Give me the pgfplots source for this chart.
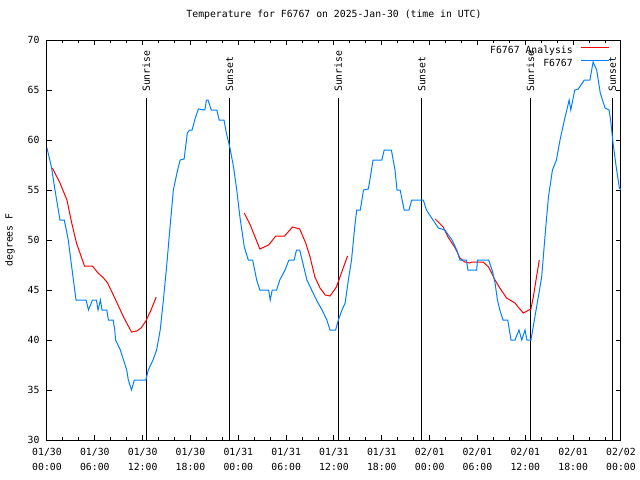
\documentclass[border=0pt]{standalone}
\usepackage{fontspec}
\setmainfont{DejaVu Sans Mono}
\usepackage{pgfplots}
\pgfplotsset{compat=1.18}
\definecolor{obsblue}{RGB}{0,128,255}
\newcommand{\gfont}{\fontsize{9.8bp}{15bp}\selectfont}

\begin{document}
\begin{tikzpicture}
\path[use as bounding box] (-47bp,-40bp) rectangle (593bp,440bp);
\begin{axis}[
  at={(0,0)}, anchor=south west,
  scale only axis, width=574bp, height=400bp,
  xmin=0, xmax=72, ymin=30, ymax=70,
  xtick={0,6,...,72}, minor x tick num=2,
  ytick={30,35,...,70},
  xticklabels={{01/30\\00:00},{01/30\\06:00},{01/30\\12:00},{01/30\\18:00},
               {01/31\\00:00},{01/31\\06:00},{01/31\\12:00},{01/31\\18:00},
               {02/01\\00:00},{02/01\\06:00},{02/01\\12:00},{02/01\\18:00},
               {02/02\\00:00}},
  xticklabel style={align=center, font=\gfont, yshift=-5bp},
  yticklabel style={font=\gfont, xshift=-4bp},
  /pgf/number format/assume math mode=true,
  tick align=inside,
  major tick length=5bp, minor tick length=3bp,
  tick style={black, line width=1bp},
  axis line style={line width=1bp},
  title={Temperature for F6767 on 2025-Jan-30 (time in UTC)},
  title style={at={(0.5,1)}, anchor=base, yshift=17bp, font=\gfont},
  ylabel={degrees F},
  ylabel style={at={(axis description cs:-0.0645,0.5)}, anchor=center, font=\gfont},
  legend style={at={(1,1)}, anchor=north east, xshift=-11bp, yshift=-6bp,
    draw=none, fill=none, inner sep=0pt, font=\gfont,
    nodes={inner sep=0pt, text height=7.5bp, text depth=2bp},
    row sep=3.5bp, column sep=8bp},
  legend cell align=right, legend plot pos=right,
  legend image code/.code={\draw[#1] (0bp,3.5bp) -- (28bp,3.5bp);},
  unbounded coords=jump,
]

% sunrise / sunset markers
\addplot[black, line width=1bp, forget plot] coordinates {(12.46,30) (12.46,64.17)};
\addplot[black, line width=1bp, forget plot] coordinates {(22.90,30) (22.90,64.17)};
\addplot[black, line width=1bp, forget plot] coordinates {(36.54,30) (36.54,64.17)};
\addplot[black, line width=1bp, forget plot] coordinates {(47.00,30) (47.00,64.17)};
\addplot[black, line width=1bp, forget plot] coordinates {(60.63,30) (60.63,64.17)};
\addplot[black, line width=1bp, forget plot] coordinates {(70.90,30) (70.90,64.17)};
\node[rotate=90, anchor=west, inner sep=0pt, font=\gfont] at (axis cs:12.46,64.8) {Sunrise};
\node[rotate=90, anchor=west, inner sep=0pt, font=\gfont] at (axis cs:22.90,64.8) {Sunset};
\node[rotate=90, anchor=west, inner sep=0pt, font=\gfont] at (axis cs:36.54,64.8) {Sunrise};
\node[rotate=90, anchor=west, inner sep=0pt, font=\gfont] at (axis cs:47.00,64.8) {Sunset};
\node[rotate=90, anchor=west, inner sep=0pt, font=\gfont] at (axis cs:60.63,64.8) {Sunrise};
\node[rotate=90, anchor=west, inner sep=0pt, font=\gfont] at (axis cs:70.90,64.8) {Sunset};

% analysis
\addplot[red, line width=1bp] coordinates {
  (0.67,57.2) (1.63,55.7) (2.5,54.0) (3.1,51.7) (3.7,49.7) (4.7,47.4) (5.7,47.4)
  (6.4,46.7) (7.1,46.2) (7.6,45.7) (8.5,44.2) (9.6,42.3) (10.6,40.8) (11.25,40.9)
  (11.8,41.2) (12.4,41.9) (13.05,43.0) (13.7,44.3)
  (18,nan)
  (24.75,52.7) (25.5,51.5) (26.1,50.3) (26.7,49.1) (27.8,49.5) (28.7,50.4) (29.8,50.4)
  (30.8,51.3) (31.7,51.1) (32.45,49.7) (33.0,48.3) (33.6,46.3) (34.25,45.2) (34.9,44.5)
  (35.5,44.4) (36.3,45.3) (36.75,46.3) (37.2,47.3) (37.7,48.4)
  (42,nan)
  (48.7,52.1) (49.7,51.3) (50.3,50.3) (51.2,49.2) (51.8,48.2) (52.4,47.8) (53.0,47.7)
  (53.3,47.8) (54.7,47.8) (55.4,47.3) (56.2,46.0) (56.8,45.2) (57.65,44.2) (58.7,43.7)
  (59.1,43.3) (59.75,42.7) (60.7,43.1) (61.0,44.3) (61.4,46.3) (61.75,48.0)
};
\addlegendentry{F6767 Analysis}

% observations
\addplot[obsblue, line width=1bp] coordinates {
  (0,59.2) (0.58,57.2) (1.0,55.0) (1.63,52.0) (2.17,52.0) (2.67,50.0) (3.1,47.3)
  (3.64,44.0) (4.9,44.0) (5.2,43.0) (5.7,44.0) (6.2,44.0) (6.4,43.0) (6.7,44.0)
  (6.9,43.0) (7.5,43.0) (7.7,42.0) (8.3,42.0) (8.5,41.0) (8.6,40.0) (9.2,39.0)
  (9.6,38.0) (10.0,37.0) (10.2,36.0) (10.6,35.0) (10.95,36.0) (12.4,36.0) (12.7,37.0)
  (13.3,38.0) (13.75,39.0) (14.2,41.0) (14.6,44.0) (15.0,47.3) (15.4,51.0) (15.85,55.0)
  (16.3,56.7) (16.7,58.0) (17.2,58.1) (17.6,60.7) (17.9,61.0) (18.2,61.0) (18.6,62.2)
  (19.0,63.1) (19.8,63.0) (20.0,64.0) (20.2,64.0) (20.6,63.0) (21.3,63.0) (21.6,62.0)
  (22.2,62.0) (22.5,60.7) (22.95,59.2) (23.4,57.3) (23.8,55.0) (24.2,52.3) (24.75,49.3)
  (25.25,48.0) (25.8,48.0) (26.3,46.0) (26.7,45.0) (27.8,45.0) (28.0,44.0) (28.25,45.0)
  (28.8,45.0) (29.2,46.0) (29.85,47.0) (30.35,48.0) (31.0,48.0) (31.3,49.0) (31.7,49.0)
  (32.0,48.0) (32.6,46.0) (33.2,45.0) (33.8,44.0) (34.5,43.0) (35.1,42.0) (35.5,41.0)
  (36.2,41.0) (36.55,42.0) (37.0,43.0) (37.4,43.7) (37.8,46.0) (38.2,48.0) (38.6,51.3)
  (38.85,53.0) (39.3,53.0) (39.7,55.0) (40.3,55.1) (40.5,56.0) (40.9,58.0) (42.0,58.0)
  (42.3,59.0) (43.2,59.0) (43.65,57.0) (43.9,55.0) (44.3,55.0) (44.8,53.0) (45.4,53.0)
  (45.75,54.0) (47.2,54.0) (47.6,53.0) (48.25,52.2) (49.1,51.2) (49.9,51.0) (50.8,50.0)
  (51.4,49.0) (51.8,48.0) (52.6,48.0) (52.8,47.0) (53.9,47.0) (54.0,48.0) (55.4,48.0)
  (55.9,46.8) (56.2,45.7) (56.5,44.0) (56.8,43.0) (57.2,42.0) (57.8,42.0) (58.2,40.0)
  (58.7,40.0) (59.2,41.0) (59.55,40.0) (59.96,41.0) (60.2,40.0) (60.7,40.0) (61.2,42.3)
  (62.05,46.3) (62.5,50.7) (62.9,54.3) (63.4,57.0) (63.9,58.0) (64.35,60.0) (64.9,62.0)
  (65.5,64.0) (65.7,63.0) (66.2,65.0) (66.65,65.1) (67.4,66.0) (68.1,66.0) (68.5,67.8)
  (68.95,67.0) (69.4,64.7) (70.0,63.2) (70.5,63.0) (70.7,62.0) (71.0,59.7) (71.4,57.3)
  (71.8,55.2) (72.0,55.0)
};
\addlegendentry{F6767}
\end{axis}
\end{tikzpicture}
\end{document}
